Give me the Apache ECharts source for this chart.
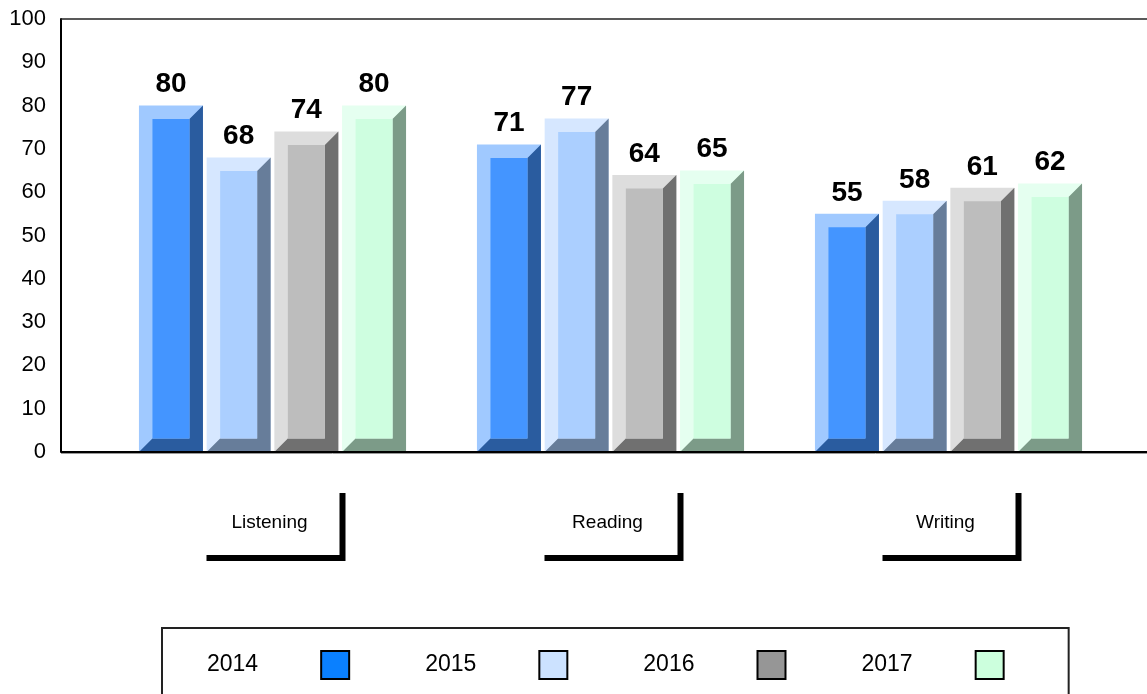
<!DOCTYPE html>
<html>
<head>
<meta charset="utf-8">
<title>Skills by year</title>
<script src="https://cdn.jsdelivr.net/npm/echarts@6/dist/echarts.min.js"></script>
<style>
  html, body { margin: 0; padding: 0; background: #fff; }
  #chart { width: 1147px; height: 694px; }
</style>
</head>
<body>
<div id="chart"></div>
<script>
// Categories and yearly scores
const skills = ['Listening', 'Reading', 'Writing'];
const years = ['2014', '2015', '2016', '2017'];
const scores2014 = [80, 71, 55];
const scores2015 = [68, 77, 58];
const scores2016 = [74, 64, 61];
const scores2017 = [80, 65, 62];
const yTicks = { min: 0, max: 100, step: 10 };

// Bevelled bar palette per year: rim highlight, face, shaded side, legend swatch
const palette = [
  { light: '#A0C9FF', face: '#4495FF', dark: '#2A5C9F', swatch: '#0A80FF' },
  { light: '#D6E7FF', face: '#ABCFFF', dark: '#677D9A', swatch: '#CCE2FF' },
  { light: '#DDDDDD', face: '#BDBDBD', dark: '#707070', swatch: '#969696' },
  { light: '#E5FFF0', face: '#CEFEE0', dark: '#7C9B88', swatch: '#CCFFDD' }
];

const FONT = '"Liberation Sans", Arial, Helvetica, sans-serif';
const seriesValues = [scores2014, scores2015, scores2016, scores2017];

const BAR_W = 64;       // bar width in px
const BAR_PITCH = 67.7; // distance between neighbouring bars of a group
const BEVEL = 13.5;

function bevelBar(seriesIdx) {
  const pal = palette[seriesIdx];
  return function (params, api) {
    const ci = api.value(0);
    const v = api.value(1);
    const topPt = api.coord([ci, v]);
    const basePt = api.coord([ci, 0]);
    const cx = topPt[0] + (seriesIdx - 1.5) * BAR_PITCH;
    const x0 = cx - BAR_W / 2, x1 = cx + BAR_W / 2;
    const top = topPt[1], bottom = basePt[1];
    const b = BEVEL;
    return {
      type: 'group',
      children: [
        { type: 'rect', shape: { x: x0, y: top, width: BAR_W, height: bottom - top },
          style: { fill: pal.light } },
        { type: 'polygon', shape: { points: [
            [x1, top], [x1, bottom], [x0, bottom], [x0 + b, bottom - b],
            [x1 - b, bottom - b], [x1 - b, top + b]] },
          style: { fill: pal.dark } },
        { type: 'rect', shape: { x: x0 + b, y: top + b, width: BAR_W - 2 * b, height: bottom - top - 2 * b },
          style: { fill: pal.face } },
        { type: 'text', style: {
            text: String(v), x: cx, y: top - 21, align: 'center', verticalAlign: 'middle',
            fill: '#000', font: 'bold 28px ' + FONT } }
      ]
    };
  };
}

// L-shaped bracket drawn under each category label
function bracket(params, api) {
  const p = api.coord([api.value(0), 0]);
  const c = p[0], yb = p[1];
  return {
    type: 'polyline',
    shape: { points: [[c - 66, yb + 106], [c + 70, yb + 106], [c + 70, yb + 41]] },
    style: { stroke: '#000', lineWidth: 6, fill: null, lineJoin: 'miter', lineCap: 'butt' }
  };
}

const series = years.map((y, si) => ({
  name: y,
  type: 'custom',
  renderItem: bevelBar(si),
  itemStyle: { color: palette[si].swatch },
  encode: { x: 0, y: 1 },
  data: seriesValues[si].map((val, i) => [i, val]),
  clip: false,
  z: 3
}));

series.push({
  type: 'custom',
  renderItem: bracket,
  encode: { x: 0, y: 1 },
  data: skills.map((s, i) => [i, 0]),
  clip: false,
  silent: true,
  z: 2
});

const chart = echarts.init(document.getElementById('chart'), null, { renderer: 'canvas' });

const GRID_LEFT = 103.5, Y_OFFSET = 42.5;

chart.setOption({
  animation: false,
  backgroundColor: '#fff',
  textStyle: { fontFamily: FONT },
  grid: { left: GRID_LEFT, right: 29.5, top: 19, bottom: 242, containLabel: false },
  xAxis: {
    type: 'category',
    data: skills,
    axisLine: { show: false },
    axisTick: { show: false },
    axisLabel: { margin: 61, fontSize: 19, color: '#000', fontFamily: FONT, padding: [0, 6, 0, 0] }
  },
  yAxis: {
    type: 'value',
    min: yTicks.min, max: yTicks.max, interval: yTicks.step,
    offset: Y_OFFSET,
    splitLine: { show: false },
    axisTick: { show: false },
    axisLine: { show: true, lineStyle: { color: '#000', width: 2 } },
    axisLabel: { margin: 15, fontSize: 22, color: '#000', fontFamily: FONT }
  },
  legend: {
    data: years,
    left: 162, top: 628,
    orient: 'horizontal',
    align: 'right',
    icon: 'rect',
    itemWidth: 28, itemHeight: 28, itemGap: 75,
    padding: [22, 64, 40, 45],
    borderColor: '#222', borderWidth: 2,
    itemStyle: { borderColor: '#000', borderWidth: 2 },
    textStyle: { fontSize: 23, color: '#000', fontFamily: FONT, padding: [2, 58, 0, 0] },
    selectedMode: false
  },
  series: series
});

// Plot frame: top border and baseline running across the full width
const yTopPx = chart.convertToPixel({ yAxisIndex: 0 }, yTicks.max);
const yBasePx = chart.convertToPixel({ yAxisIndex: 0 }, yTicks.min);
const axisX = GRID_LEFT - Y_OFFSET;
chart.setOption({
  graphic: [
    { type: 'line', shape: { x1: axisX, y1: yTopPx, x2: chart.getWidth(), y2: yTopPx },
      style: { stroke: '#222', lineWidth: 1.5 }, z: 1 },
    { type: 'line', shape: { x1: axisX, y1: yBasePx, x2: chart.getWidth(), y2: yBasePx },
      style: { stroke: '#000', lineWidth: 2 }, z: 10 },
    { type: 'line', shape: { x1: axisX, y1: yBasePx + 1.5, x2: chart.getWidth(), y2: yBasePx + 1.5 },
      style: { stroke: '#999', lineWidth: 1 }, z: 10 }
  ]
});
</script>
</body>
</html>
